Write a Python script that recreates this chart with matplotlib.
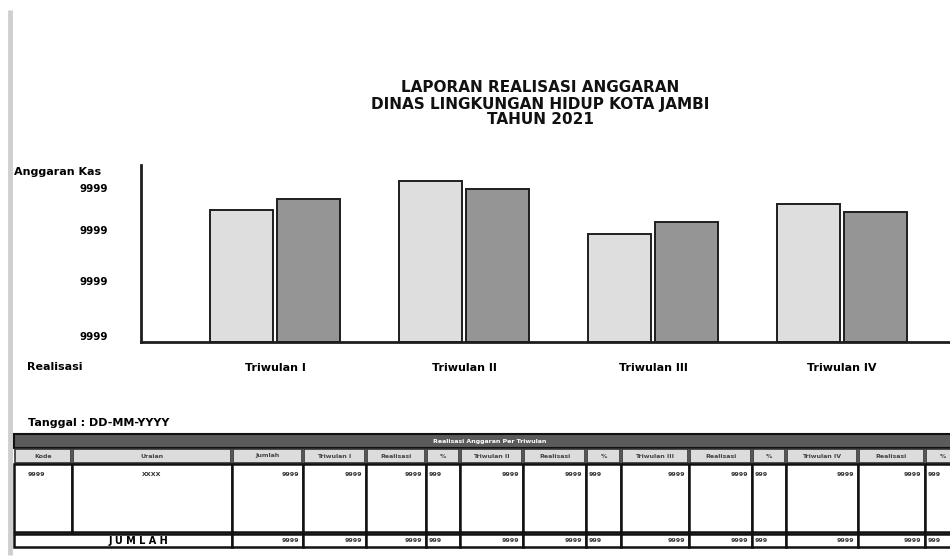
import matplotlib
matplotlib.use("Agg")
import matplotlib.pyplot as plt
from matplotlib.patches import Rectangle
import numpy as np

plt.rcParams['font.family'] = ['DejaVu Sans']
plt.rcParams['font.weight'] = 'bold'

# data
judul = ['LAPORAN REALISASI ANGGARAN', 'DINAS LINGKUNGAN HIDUP KOTA JAMBI', 'TAHUN 2021']
triwulan = ['Triwulan I', 'Triwulan II', 'Triwulan III', 'Triwulan IV']
anggaran_kas = [132, 161, 108, 138]
realisasi = [143, 153, 120, 130]
ytick_pos = [6, 61, 112, 154]
ytick_label = ['9999', '9999', '9999', '9999']

kolom = ['Kode', 'Uraian', 'Jumlah', 'Triwulan I', 'Realisasi', '%',
         'Triwulan II', 'Realisasi', '%', 'Triwulan III', 'Realisasi', '%',
         'Triwulan IV', 'Realisasi', '%']
baris = ['9999', 'XXXX', '9999', '9999', '9999', '999', '9999', '9999', '999',
         '9999', '9999', '999', '9999', '9999', '999']
jumlah = ['9999', '9999', '9999', '999', '9999', '9999', '999',
          '9999', '9999', '999', '9999', '9999', '999']

W, H = 950, 557
fig = plt.figure(figsize=(9.5, 5.57), dpi=100)

# ---- grafik batang ----
ax = fig.add_axes([141 / W, (H - 342) / H, (W - 141) / W, (342 - 165) / H])
x = np.arange(len(triwulan))
lebar = 0.335
ax.bar(x - 0.177, anggaran_kas, lebar, color='#dedede', edgecolor='#1e1e1e', linewidth=1.4)
ax.bar(x + 0.177, realisasi, lebar, color='#959595', edgecolor='#1e1e1e', linewidth=1.4)
ax.set_xlim(-0.709, 3.571)
ax.set_ylim(0, 177)
for s in ['top', 'right']:
    ax.spines[s].set_visible(False)
for s in ['left', 'bottom']:
    ax.spines[s].set_linewidth(2)
    ax.spines[s].set_color('#1e1e1e')
ax.set_xticks(x)
ax.set_xticklabels(triwulan, fontsize=8, fontweight='bold')
ax.set_yticks(ytick_pos)
ax.set_yticklabels(ytick_label, fontsize=7.5, fontweight='bold')
ax.tick_params(axis='both', length=0)
ax.tick_params(axis='x', pad=15)
ax.tick_params(axis='y', pad=24)

# ---- kanvas untuk teks dan tabel (koordinat piksel) ----
cv = fig.add_axes([0, 0, 1, 1], zorder=-1)
cv.set_xlim(0, W)
cv.set_ylim(H, 0)
cv.axis('off')
cv2 = fig.add_axes([0, 0, 1, 1])
cv2.set_xlim(0, W)
cv2.set_ylim(H, 0)
cv2.axis('off')
cv2.patch.set_alpha(0)

cv.plot([10, 10], [10, 555], color='#cfcfcf', lw=3.5, solid_capstyle='butt')

for i, t in enumerate(judul):
    cv2.text(540, 88 + i * 16, t, ha='center', va='center', fontsize=11, fontweight='bold', color='#111')

cv2.text(14, 172, 'Anggaran Kas', ha='left', va='center', fontsize=8, fontweight='bold')
cv2.text(27, 367, 'Realisasi', ha='left', va='center', fontsize=8, fontweight='bold')
cv2.text(28, 423, 'Tanggal : DD-MM-YYYY', ha='left', va='center', fontsize=8, fontweight='bold')

# tabel
tepi = [14, 72, 232, 303, 366, 426, 460, 523, 586, 621, 689, 752, 786, 858, 925, 960]
cv2.add_patch(Rectangle((14, 434), 980, 14, facecolor='#5b5b5b', edgecolor='#111', lw=1.5))
cv2.text(490, 441, 'Realisasi Anggaran Per Triwulan', ha='center', va='center',
         fontsize=4.5, fontweight='bold', color='white')

for j, k in enumerate(kolom):
    x0, x1 = tepi[j], tepi[j + 1]
    cv2.add_patch(Rectangle((x0 + 1, 449), x1 - x0 - 2, 14, facecolor='#dcdcdc',
                            edgecolor='#333', lw=1.2))
    cv2.text((x0 + x1) / 2, 456, k, ha='center', va='center', fontsize=4.5,
             fontweight='bold', color='#444')
    cv2.add_patch(Rectangle((x0, 464), x1 - x0, 68, facecolor='white', edgecolor='#111', lw=1.8))
    v = baris[j]
    if j == 0:
        cv2.text(x0 + 14, 474, v, ha='left', va='center', fontsize=4.5, color='#333')
    elif j == 1:
        cv2.text((x0 + x1) / 2, 474, v, ha='center', va='center', fontsize=4.5, color='#333')
    elif k == '%':
        cv2.text(x0 + 3, 474, v, ha='left', va='center', fontsize=4.5, color='#333')
    else:
        cv2.text(x1 - 4, 474, v, ha='right', va='center', fontsize=4.5, color='#333')

cv2.add_patch(Rectangle((14, 534), tepi[2] - 14, 13, facecolor='white', edgecolor='#111', lw=1.8))
cv2.text(138, 540.5, 'J U M L A H', ha='center', va='center', fontsize=7, fontweight='bold')
for j in range(2, len(kolom)):
    x0, x1 = tepi[j], tepi[j + 1]
    cv2.add_patch(Rectangle((x0, 534), x1 - x0, 13, facecolor='white', edgecolor='#111', lw=1.8))
    v = jumlah[j - 2]
    if kolom[j] == '%':
        cv2.text(x0 + 3, 541, v, ha='left', va='center', fontsize=4.5, color='#333')
    else:
        cv2.text(x1 - 4, 541, v, ha='right', va='center', fontsize=4.5, color='#333')

fig.savefig('out.png', dpi=100)
